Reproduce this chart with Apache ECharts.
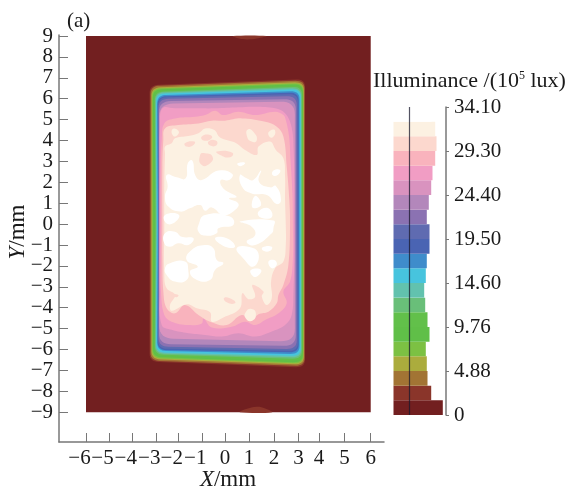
<!DOCTYPE html>
<html><head><meta charset="utf-8">
<style>html,body{margin:0;padding:0;background:#fff}#c{width:568px;height:487px}</style>
<script src="https://cdn.jsdelivr.net/npm/echarts@6/dist/echarts.min.js"></script>
</head><body><div id="c"></div>
<script>
// Tick positions (mm) and their labels
const xTickValues=[-6,-5.03,-4.05,-3.06,-2.11,-1.12,-0.14,0.87,1.92,2.96,3.82,4.90,6];
const xTickLabels=['−6','−5','−4','−3','−2','−1','0','1','2','3','4','5','6'];
const yTickValues=[-9,-8,-7,-6,-5,-4,-3,-2,-1,0,1,2,3,4,5,6,7,8,9];
const barTickLabels=['0','4.88','9.76','14.60','19.50','24.40','29.30','34.10'];
// Illuminance bands, low to high
const bandColors=['#721F20','#8A352A','#A27434','#ABAC3D','#7CC143','#60BF48','#62C04A','#69BF79','#62C2AE','#47C4DE','#3F8CCB','#4A64B3','#5F6BB1','#8B72B2','#B387BB','#D993BF','#F19DC4','#F9B3BD','#FCD8CE','#FCF1E2','#FFFFFF'];
const bandIds=['b01','b02','b03','b04','b05','b06','b07','b08','b09','b10','b11','b12','b13','b14','b15','b16','b17','b18','b19','b20','b21'];
const bandShare=[49.3,37.7,34,33.3,32.3,36,34,31.7,30.7,32.3,33.3,36,36,33.3,35.3,37.7,39,41.7,43,41.7,38];
const lineValue=[15.5];
// Edge contours: left, left at mid height, right, top-left, top-right, bottom-left, bottom-right, corner
const edgeContours=[
[-3.32,-3.32,3.23,6.65,6.94,-6.58,-6.86,.38],
[-3.28,-3.28,3.21,6.61,6.87,-6.53,-6.79,.38],
[-3.24,-3.24,3.18,6.53,6.80,-6.46,-6.72,.38],
[-3.21,-3.21,3.16,6.49,6.75,-6.41,-6.67,.38],
[-3.18,-3.17,3.14,6.44,6.70,-6.36,-6.62,.38],
[-3.14,-3.12,3.12,6.39,6.66,-6.30,-6.55,.38],
[-3.10,-3.07,3.10,6.33,6.58,-6.24,-6.45,.38],
[-3.07,-3.04,3.07,6.29,6.51,-6.19,-6.38,.38],
[-3.04,-3.01,3.05,6.24,6.46,-6.14,-6.31,.38],
[-3.00,-2.98,3.00,6.17,6.37,-6.06,-6.22,.38],
[-2.98,-2.96,2.96,6.11,6.30,-6.02,-6.14,.38],
[-2.96,-2.95,2.93,6.06,6.23,-5.96,-6.07,.38],
[-2.94,-2.94,2.88,5.99,6.13,-5.86,-5.98,.42],
[-2.92,-2.92,2.84,5.88,5.99,-5.74,-5.83,.5],
[-2.91,-2.91,2.80,5.76,5.87,-5.47,-5.62,.6]];
const topSpot=[[.2,9],[1.6,9],[1.2,8.88],[.8,8.84],[.45,8.88]];
const bottomSpot=[[.49,-9],[.75,-8.85],[1.2,-8.74],[1.55,-8.82],[1.84,-9]];
const pinkContour=[[-2.78,5.54],[-2.25,5.54],[-1.40,5.54],[-.56,5.54],[.42,5.59],[1.13,5.62],[1.97,5.54],[2.39,5.30],[2.66,4.66],[2.75,3.55],[2.78,1.95],[2.78,-.04],[2.78,-1.64],[2.74,-3.23],[2.67,-4.35],[2.39,-4.83],[1.83,-5.14],[1.13,-5.38],[.42,-5.22],[-.28,-5.38],[-.98,-5.30],[-1.69,-5.22],[-2.39,-5.06],[-2.81,-4.83],[-2.89,-3.23],[-2.89,-.04],[-2.89,2.75],[-2.88,4.66]];
const salmonContour=[[-2.70,4.82],[-2.25,5.06],[-1.40,5.14],[-.98,5.22],[-.56,5.43],[-.21,5.22],[.42,5.38],[1.13,5.22],[1.97,5.38],[2.32,5.22],[2.42,4.98],[2.56,4.19],[2.62,3.07],[2.70,1.47],[2.72,-.04],[2.72,-1.64],[2.60,-2.75],[2.32,-3.23],[2.46,-3.79],[2.11,-4.27],[1.55,-4.59],[1.13,-4.83],[.70,-4.67],[.14,-4.91],[-.70,-4.95],[-1.05,-4.51],[-1.12,-4.75],[-1.69,-4.83],[-2.39,-4.67],[-2.70,-4.35],[-2.84,-3.23],[-2.85,-1.64],[-2.85,-.04],[-2.85,2.75],[-2.81,4.03]];
const peachContour=[[-2.67,4.58],[-2.11,4.74],[-1.26,4.82],[-.70,4.95],[-.14,4.95],[.56,5.06],[1.55,4.90],[2.04,4.66],[2.32,4.19],[2.46,2.75],[2.57,1.15],[2.60,-.04],[2.53,-1.95],[2.32,-2.91],[2.11,-3.39],[2.04,-3.79],[1.69,-4.19],[1.27,-4.31],[.98,-4.59],[.56,-4.35],[-.07,-4.83],[-.77,-4.67],[-1.26,-4.35],[-1.83,-3.87],[-2.25,-4.27],[-2.60,-4.03],[-2.74,-3.23],[-2.78,-1.64],[-2.78,-.04],[-2.78,2.75],[-2.74,4.03]];
const creamContour=[[-2.67,3.39],[-2.67,3.71],[-2.39,3.87],[-2.25,4.11],[-1.69,4.22],[-1.26,4.35],[-.98,4.58],[-.59,4.50],[-.35,4.15],[.28,3.90],[.70,3.55],[1.2,3.31],[1.27,3.71],[1.76,3.95],[2.0,3.55],[2.32,3.15],[2.39,2.27],[2.39,1.15],[2.42,-.04],[2.42,-1.0],[2.32,-1.79],[1.97,-2.11],[1.80,-2.75],[1.83,-3.55],[1.62,-3.87],[1.41,-3.47],[1.48,-3.23],[1.01,-2.91],[1.13,-3.47],[.84,-3.59],[.59,-3.31],[.49,-4.03],[-.21,-4.47],[-.70,-4.67],[-.77,-4.22],[-1.33,-4.03],[-1.75,-3.84],[-2.39,-4.15],[-2.46,-3.87],[-2.25,-3.39],[-2.60,-3.07],[-2.70,-2.43],[-2.70,-.04],[-2.70,1.95]];
const creamIslands=[
[[-2.36,4.54],[-2.11,4.47],[-2.14,4.27],[-2.32,4.22]],
[[.84,4.54],[1.05,4.42],[1.2,4.03],[.98,3.95],[.77,4.27]],
[[1.76,4.47],[1.97,4.47],[1.86,4.15],[1.69,4.27]],
[[.73,-4.22],[.98,-4.06],[1.16,-4.31],[.98,-4.63],[.73,-4.51]]];
const peachHoles=[
[[-1.19,3.31],[-.98,3.39],[-.67,3.23],[-.77,2.91],[-1.12,2.83]],
[[-1.83,3.87],[-1.43,3.95],[-1.47,3.79],[-1.76,3.71]],
[[-1.12,4.19],[-.77,4.27],[-.70,4.11],[-1.05,4.0]],
[[-.84,3.95],[-.53,4.0],[-.49,3.79],[-.77,3.76]],
[[-.49,3.47],[.17,3.42],[.07,3.2],[-.35,3.31]],
[[-.17,-3.52],[.21,-3.63],[.28,-3.79],[-.07,-3.74]],
[[-2.39,-3.36],[-2.11,-3.39],[-2.2,-3.5]]];
const whiteBlobs=[
[[-2.60,2.35],[-2.18,2.24],[-1.80,2.19],[-1.71,2.91],[-1.52,3.04],[-1.38,2.30],[-1.12,2.11],[-.42,2.56],[.17,2.40],[.03,2.11],[-.32,2.11],[-.21,1.71],[.35,1.31],[.03,1.23],[.42,.99],[.28,.68],[-.21,.44],[-.70,.80],[-.98,.64],[-1.19,.91],[-1.62,.76],[-2.04,.60],[-2.53,.84],[-2.67,1.31],[-2.56,1.79]],
[[.49,2.35],[.77,2.19],[1.05,2.11],[1.38,2.56],[1.29,2.03],[1.76,1.76],[2.0,1.83],[2.22,1.15],[2.04,.96],[1.62,1.39],[.98,1.47],[.59,1.76]],
[[1.13,1.35],[1.38,.92],[1.01,.80]],
[[1.27,.60],[1.69,.76],[1.83,.33],[1.34,.33]],
[[1.9,2.56],[2.18,2.59],[2.08,2.35],[1.86,2.35]],
[[.39,2.91],[.70,2.94],[.59,2.80],[.42,2.80]],
[[-2.67,.44],[-2.08,.44],[-2.32,.04],[-2.64,.07]],
[[-.98,.44],[.07,.36],[.21,-.04],[-.42,-.20],[-.49,-.44],[-.98,-.55],[-1.26,-.36],[-1.26,-.04]],
[[.49,.12],[1.9,.17],[1.9,-.20],[1.83,-.44],[1.13,-1.0],[.77,-.84],[1.13,-.52],[.98,-.12]],
[[-2.67,-.44],[-2.25,-.36],[-1.97,-.60],[-1.47,-.68],[-1.69,-1.0],[-2.11,-.92],[-2.46,-1.08],[-2.70,-.92]],
[[-1.55,-1.24],[-.98,-1.0],[-.63,-1.16],[-.49,-1.72],[-.21,-1.87],[-.56,-2.19],[-.77,-2.67],[-1.33,-2.67],[-1.62,-2.27],[-1.29,-2.03],[-1.76,-1.72]],
[[-2.67,-2.11],[-2.46,-1.87],[-1.83,-1.79],[-1.69,-2.19],[-1.76,-2.67],[-2.25,-2.75],[-2.60,-2.43]],
[[.35,-1.16],[.84,-1.08],[1.27,-1.40],[1.06,-2.03],[.63,-1.64]],
[[1.43,-1.12],[1.83,-1.08],[1.76,-1.28],[1.48,-1.28]],
[[1.69,-1.79],[1.94,-1.72],[2.04,-1.95],[1.83,-2.11]],
[[.95,-2.19],[1.38,-2.19],[1.2,-2.51],[1.01,-2.46]],
[[-.56,-.68],[-.07,-.68],[.28,-1.08],[-.14,-1.08]]];
const fieldExtent=[[-6,9],[6,9],[6,-9],[-6,-9]];

const serif='"Liberation Serif"', fs=21, axisGray='#777';
function cornerArc(a,b,c,r,out){
  const d1=Math.hypot(a[0]-b[0],a[1]-b[1]),d2=Math.hypot(c[0]-b[0],c[1]-b[1]);
  const p=[b[0]+(a[0]-b[0])*r/d1,b[1]+(a[1]-b[1])*r/d1],q=[b[0]+(c[0]-b[0])*r/d2,b[1]+(c[1]-b[1])*r/d2];
  for(let t=0;t<=1.001;t+=.125){const u=1-t;out.push([u*u*p[0]+2*u*t*b[0]+t*t*q[0],u*u*p[1]+2*u*t*b[1]+t*t*q[1]]);}
}
function edgeOutline(c){
  const [L,M,R,TL,TR,BL,BR,r]=c;
  const v=[[L,TL],[R,TR],[R,BR],[L,BL]],out=[];
  for(let i=0;i<4;i++)cornerArc(v[(i+3)%4],v[i],v[(i+1)%4],r,out);
  out.push([M,(TL+BL)/2]);
  return out;
}
const layers=[{p:fieldExtent,c:0,s:0},{p:topSpot,c:1,s:.4},{p:bottomSpot,c:1,s:.4}];
edgeContours.forEach((c,i)=>layers.push({p:edgeOutline(c),c:i+1,s:0}));
layers.push({p:pinkContour,c:16,s:.4},{p:salmonContour,c:17,s:.4},{p:peachContour,c:18,s:.4},{p:creamContour,c:19,s:.4});
creamIslands.forEach(p=>layers.push({p,c:19,s:.6}));
peachHoles.forEach(p=>layers.push({p,c:18,s:.6}));
whiteBlobs.forEach(p=>layers.push({p,c:20,s:.5}));

const text={fontFamily:serif,fontSize:fs,color:'#1a1a1a',fontWeight:'normal'};
const nameText={...text,fontSize:23};
const chart=echarts.init(document.getElementById('c'),null,{renderer:'canvas'});
chart.setOption({
  animation:false,
  backgroundColor:'#fff',
  title:[
    {text:'(a)',left:67,top:11,padding:0,textStyle:{...text}},
    {text:'{n|Illuminance /(10}{s|5}{n| lux)}',left:373,top:70,padding:0,textStyle:{fontWeight:'normal',rich:{
      n:{fontFamily:serif,fontSize:22,color:'#1a1a1a',fontWeight:'normal',lineHeight:22},
      s:{fontFamily:serif,fontSize:12,color:'#1a1a1a',fontWeight:'normal',verticalAlign:'top',lineHeight:22,padding:[0,0,6,0]}}}}
  ],
  grid:[
    {left:59,width:325,top:35,height:407,outerBoundsMode:'none'},
    {left:393.5,width:52.5,top:107,height:308,outerBoundsMode:'none'}
  ],
  xAxis:[
    {type:'value',gridIndex:0,min:-7.138,max:6.56,
     name:'{i|X}/mm',nameLocation:'middle',nameGap:26,nameMoveOverlap:false,
     nameTextStyle:{...nameText,padding:[0,0,0,13],rich:{i:{...nameText,fontStyle:'italic'}}},
     axisLine:{onZero:false,lineStyle:{color:axisGray,width:1.5}},
     axisTick:{inside:true,length:9,customValues:xTickValues,lineStyle:{color:axisGray,width:1}},
     axisLabel:{...text,margin:6,hideOverlap:false,showMinLabel:true,showMaxLabel:true,customValues:xTickValues,
       formatter:v=>{const s=xTickLabels[xTickValues.indexOf(v)];return v<-0.5?'{neg|'+s+'}':'{n|'+s+'}';},
       rich:{neg:{...text,padding:[0,13,0,0]},n:{...text}}},
     splitLine:{show:false}},
    {type:'value',gridIndex:1,min:0,max:52.5,show:false}
  ],
  yAxis:[
    {type:'value',gridIndex:0,min:-10.426,max:9.05,
     name:'{i|Y}/mm',nameLocation:'middle',nameGap:30,nameRotate:90,nameMoveOverlap:false,
     nameTextStyle:{...nameText,padding:[0,0,0,13],rich:{i:{...nameText,fontStyle:'italic'}}},
     axisLine:{show:true,onZero:false,lineStyle:{color:axisGray,width:1.5}},
     axisTick:{show:true,inside:true,length:9,customValues:yTickValues,lineStyle:{color:axisGray,width:1}},
     axisLabel:{...text,margin:6,customValues:yTickValues,formatter:v=>String(v).replace('-','−')},
     splitLine:{show:false}},
    {type:'category',gridIndex:1,data:bandIds,show:false,boundaryGap:true},
    {type:'value',gridIndex:1,min:0,max:7,interval:1,position:'right',
     axisLine:{show:true,onZero:false,lineStyle:{color:axisGray,width:1.5}},
     axisTick:{show:true,length:3,lineStyle:{color:axisGray,width:1}},
     axisLabel:{...text,margin:8,formatter:v=>barTickLabels[v]},
     splitLine:{show:false}}
  ],
  series:[
    {type:'custom',xAxisIndex:0,yAxisIndex:0,silent:true,clip:false,
     data:layers.map((l,i)=>[i]),
     encode:{x:-1,y:-1},
     renderItem:(params,api)=>{
       const l=layers[api.value(0)];
       return {type:'polygon',z2:api.value(0),
         shape:{points:l.p.map(q=>api.coord(q)),smooth:l.s},
         style:{fill:bandColors[l.c],stroke:null}};
     }},
    {type:'bar',xAxisIndex:1,yAxisIndex:1,silent:true,barWidth:'100%',
     data:bandShare.map((v,i)=>({value:v,itemStyle:{color:bandColors[i]}})),
     markLine:{silent:true,symbol:'none',label:{show:false},
       lineStyle:{color:'rgba(25,25,45,.75)',width:1.2,type:'solid'},
       data:[{xAxis:lineValue[0]}]}}
  ]
});
</script></body></html>
